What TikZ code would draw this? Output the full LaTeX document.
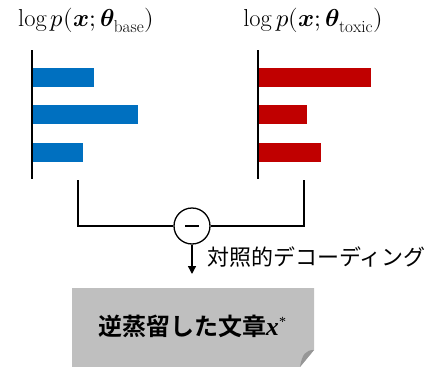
\documentclass[tikz,border=0pt]{standalone}
\usepackage{amsmath}
\usepackage{fontspec}
\usepackage{unicode-math}
\newfontfamily\jpfont{Noto Sans CJK JP}
\newfontfamily\jpbold{Noto Sans CJK JP Bold}
\newfontfamily\timesfont{Liberation Serif}
\usetikzlibrary{arrows.meta}
\definecolor{barblue}{RGB}{0,112,192}
\definecolor{barred}{RGB}{192,0,0}
\definecolor{notegray}{RGB}{191,191,191}
\definecolor{folddark}{RGB}{150,150,150}
\tikzset{
  axisline/.style={line width=2pt, black},
  bracketline/.style={line width=1.8pt, black},
  bluebar/.style={fill=barblue, draw=none},
  redbar/.style={fill=barred, draw=none},
  title/.style={inner sep=0pt, font=\fontsize{24.5}{28}\selectfont},
  minusnode/.style={circle, draw, line width=1.3pt, minimum size=36pt, inner sep=0pt, fill=white},
  steplabel/.style={inner sep=0pt, anchor=west, font=\jpfont\fontsize{22}{24}\selectfont},
  notetext/.style={inner sep=0pt, font=\jpbold\fontsize{24}{27}\selectfont},
}
\begin{document}
\begin{tikzpicture}[x=1pt, y=-1pt]
\useasboundingbox (0,0) rectangle (426,367);

% titles
\node[title] (tbase) at (86,20) {$\log p(\symbfit{x};\symbfit{\theta}_{\mathrm{base}})$};
\node[title] (ttox) at (313,20) {$\log p(\symbfit{x};\symbfit{\theta}_{\mathrm{toxic}})$};

% base model bars
\fill[bluebar] (32,68) rectangle (94,87);
\fill[bluebar] (32,105) rectangle (138,124);
\fill[bluebar] (32,143) rectangle (83,162);
\draw[axisline] (32,50) -- (32,179);

% toxic model bars
\fill[redbar] (258,68) rectangle (371,87);
\fill[redbar] (258,105) rectangle (307,124);
\fill[redbar] (258,143) rectangle (321,162);
\draw[axisline] (258,50) -- (258,179);

% subtraction of the two distributions
\coordinate (lb) at (78,180);
\coordinate (rb) at (304,180);
\node[minusnode] (minus) at (192,226) {};
\draw[line width=1.4pt] ([xshift=-7pt]minus.center) -- ([xshift=7pt]minus.center);
\draw[bracketline] (lb) |- (minus.west);
\draw[bracketline] (rb) |- (minus.east);

% contrastive decoding arrow
\coordinate (arrowend) at (192,274);
\draw[line width=1.4pt, -{Triangle[width=8pt,length=8pt]}] (minus.south) -- (arrowend);
\node[steplabel] (cdlabel) at (207,257) {対照的デコーディング};

% output note with folded corner
\fill[notegray] (72,288) -- (314,288) -- (314,350) -- (300,367) -- (72,367) -- cycle;
\fill[folddark] (314,350) .. controls (306,350) and (302,354) .. (300,367) -- cycle;
\node[notetext] (out) at (192,326) {逆蒸留した文章{\timesfont\itshape\bfseries\fontsize{26}{27}\selectfont x}\raisebox{9pt}{\timesfont\fontsize{14}{14}\selectfont *}};
\end{tikzpicture}
\end{document}
